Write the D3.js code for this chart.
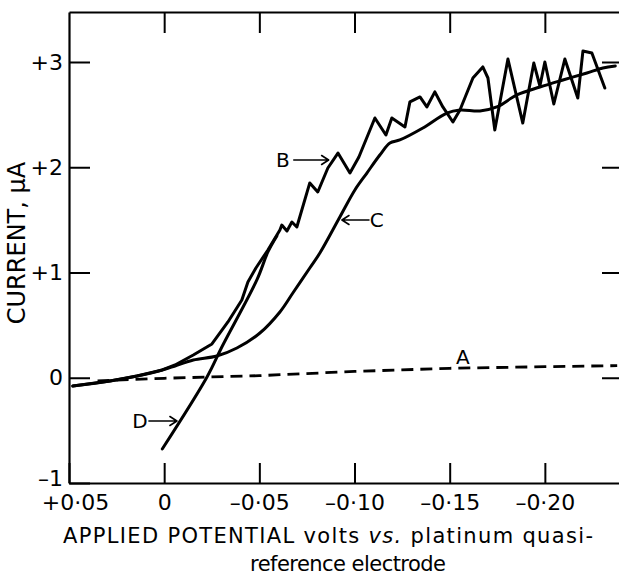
<!DOCTYPE html>
<html>
<head>
<meta charset="utf-8">
<script src="https://cdn.jsdelivr.net/npm/d3@7"></script>
<style>
  html, body { margin: 0; padding: 0; background: #fff; }
  svg { display: block; }
  text { font-family: "DejaVu Sans", sans-serif; fill: #000; }
</style>
</head>
<body>
<script>
// Axis ticks (potential in volts, current in microamps)
const potentialTicks = [0.05, 0, -0.05, -0.10, -0.15, -0.20];
const potentialTickLabels = ["+0·05", "0", "–0·05", "–0·10", "–0·15", "–0·20"];
const currentTicks = [-1, 0, 1, 2, 3];
const currentTickLabels = ["–1", "0", "+1", "+2", "+3"];

// Curve A: residual current (dashed)
const curveA = [
  [0.035, -0.03], [0, -0.005], [-0.05, 0.02], [-0.10, 0.06],
  [-0.15, 0.09], [-0.20, 0.105], [-0.238, 0.115]
];

// Curve B: noisy wave
const curveB = [
  [0.048, -0.078], [0.0285, -0.031], [0.0143, 0.017], [0.001, 0.074],
  [-0.0057, 0.121], [-0.0153, 0.216], [-0.0251, 0.321], [-0.0335, 0.530],
  [-0.0408, 0.739], [-0.044, 0.91], [-0.0482, 1.043], [-0.0545, 1.214],
  [-0.0608, 1.404], [-0.0618, 1.451], [-0.0645, 1.394], [-0.0671, 1.48],
  [-0.0697, 1.432], [-0.0765, 1.851], [-0.0807, 1.765], [-0.086, 1.993],
  [-0.0913, 2.135], [-0.0976, 1.945], [-0.1023, 2.097], [-0.1107, 2.468],
  [-0.1165, 2.306], [-0.1196, 2.468], [-0.1265, 2.383], [-0.1291, 2.621],
  [-0.1344, 2.668], [-0.138, 2.573], [-0.1422, 2.716], [-0.1464, 2.573],
  [-0.1517, 2.43], [-0.1554, 2.544], [-0.1622, 2.848], [-0.1674, 2.953],
  [-0.1701, 2.848], [-0.1737, 2.354], [-0.1806, 3.028], [-0.1884, 2.42],
  [-0.1942, 2.99], [-0.1974, 2.772], [-0.2, 3.0], [-0.2047, 2.601],
  [-0.2105, 3.028], [-0.2173, 2.658], [-0.22, 3.104], [-0.2247, 3.085],
  [-0.2315, 2.753]
];

// Curve C: smooth wave
const curveC = [
  [0.048, -0.078], [0.0285, -0.031], [0.0143, 0.017], [0.001, 0.074],
  [-0.0057, 0.112], [-0.0153, 0.169], [-0.0277, 0.207], [-0.0382, 0.283],
  [-0.0503, 0.425], [-0.0608, 0.625], [-0.0676, 0.805], [-0.0765, 1.043],
  [-0.0818, 1.185], [-0.0923, 1.527], [-0.1002, 1.784], [-0.1065, 1.945],
  [-0.1133, 2.116], [-0.1186, 2.23], [-0.1238, 2.259], [-0.1359, 2.373],
  [-0.1485, 2.515], [-0.1554, 2.544], [-0.1659, 2.535], [-0.1748, 2.573],
  [-0.1853, 2.687], [-0.1974, 2.762], [-0.2095, 2.829], [-0.2221, 2.896],
  [-0.2305, 2.943], [-0.237, 2.962]
];

// Curve D: foot of the wave
const curveD = [
  [0.001, -0.677], [-0.0225, 0.007], [-0.0303, 0.292], [-0.0487, 0.929],
  [-0.0545, 1.195], [-0.0592, 1.347]
];

// Curve labels with their pointer arrows (data units)
const curveLabels = [
  { text: "A", at: [-0.1569, 0.197] },
  { text: "B", at: [-0.0624, 2.069], arrow: [[-0.0681, 2.069], [-0.0864, 2.069]] },
  { text: "C", at: [-0.1117, 1.499], arrow: [[-0.1076, 1.499], [-0.0934, 1.499]] },
  { text: "D", at: [0.0127, -0.411], arrow: [[0.008, -0.411], [-0.0067, -0.411]] }
];

const W = 619, H = 578;
const svg = d3.select("body").append("svg").attr("width", W).attr("height", H);

const x = d3.scaleLinear().domain([0.05, -0.24]).range([69, 621]);
const y = d3.scaleLinear().domain([-1, 3.475]).range([483, 12]);

function styleAxis(g, fontSize) {
  g.attr("font-family", "DejaVu Sans, sans-serif").attr("font-size", fontSize);
  g.select(".domain").attr("stroke", "#000").attr("stroke-width", 2.2);
  g.selectAll(".tick line").attr("stroke", "#000").attr("stroke-width", 2);
  g.selectAll(".tick text").attr("fill", "#000");
}

// bottom axis with labels, ticks pointing inward
const gBottom = svg.append("g")
  .attr("transform", `translate(0,${y(-1)})`)
  .call(d3.axisBottom(x)
    .tickValues(potentialTicks)
    .tickFormat(d => potentialTickLabels[potentialTicks.indexOf(d)])
    .tickSizeInner(-20).tickSizeOuter(0).tickPadding(11));
styleAxis(gBottom, 22);
gBottom.selectAll(".tick text").filter(d => d === 0.05).attr("dx", 6);

// top axis, ticks only
const gTop = svg.append("g")
  .attr("transform", `translate(0,${y.range()[1]})`)
  .call(d3.axisTop(x)
    .tickValues(potentialTicks.slice(1))
    .tickFormat("")
    .tickSizeInner(-21).tickSizeOuter(0));
styleAxis(gTop, 22);

// left axis with labels
const gLeft = svg.append("g")
  .attr("transform", `translate(${x(0.05)},0)`)
  .call(d3.axisLeft(y)
    .tickValues(currentTicks)
    .tickFormat(d => currentTickLabels[currentTicks.indexOf(d)])
    .tickSizeInner(-21).tickSizeOuter(0).tickPadding(6));
styleAxis(gLeft, 22);
// lowest label sits a little above the corner so it clears the x labels
gLeft.selectAll(".tick text").filter(d => d === -1).attr("dy", "0.1em");

// right axis, ticks only
const gRight = svg.append("g")
  .attr("transform", `translate(${x.range()[1]},0)`)
  .call(d3.axisRight(y)
    .tickValues(currentTicks.slice(1))
    .tickFormat("")
    .tickSizeInner(-19).tickSizeOuter(0));
styleAxis(gRight, 22);

// curves
const line = d3.line().x(d => x(d[0])).y(d => y(d[1]));
const curves = svg.append("g").attr("fill", "none").attr("stroke", "#000")
  .attr("stroke-linecap", "round").attr("stroke-linejoin", "round");

curves.append("path")
  .attr("d", line.curve(d3.curveLinear)(curveA))
  .attr("stroke-width", 2.8).attr("stroke-dasharray", "12,7").attr("stroke-linecap", "butt");
curves.append("path").attr("d", line.curve(d3.curveLinear)(curveB)).attr("stroke-width", 3);
curves.append("path").attr("d", line.curve(d3.curveCatmullRom)(curveC)).attr("stroke-width", 3);
curves.append("path").attr("d", line.curve(d3.curveCatmullRom)(curveD)).attr("stroke-width", 3);

// labels and arrows
const lab = svg.append("g");
curveLabels.forEach(l => {
  lab.append("text")
    .attr("x", x(l.at[0])).attr("y", y(l.at[1]))
    .attr("dy", "0.36em").attr("text-anchor", "middle")
    .attr("font-size", 20).text(l.text);
  if (l.arrow) {
    const [p0, p1] = l.arrow.map(p => [x(p[0]), y(p[1])]);
    const dir = Math.sign(p1[0] - p0[0]);
    const hx = p1[0] - dir * 7;
    lab.append("path")
      .attr("d", `M${p0[0]},${p0[1]}L${p1[0]},${p1[1]}M${hx},${p1[1] - 4.5}L${p1[0]},${p1[1]}L${hx},${p1[1] + 4.5}`)
      .attr("fill", "none").attr("stroke", "#000").attr("stroke-width", 1.6)
      .attr("stroke-linecap", "round").attr("stroke-linejoin", "round");
  }
});

// axis titles
const xTitle = svg.append("text")
  .attr("x", 63).attr("y", 543).attr("font-size", 21)
  .attr("textLength", 530).attr("lengthAdjust", "spacing");
xTitle.append("tspan").text("APPLIED POTENTIAL volts ");
xTitle.append("tspan").attr("font-style", "italic").text("vs.");
xTitle.append("tspan").text(" platinum quasi-");

svg.append("text")
  .attr("x", 250).attr("y", 571).attr("font-size", 21)
  .attr("textLength", 196).attr("lengthAdjust", "spacing")
  .text("reference electrode");

svg.append("text")
  .attr("transform", "translate(25,243) rotate(-90)")
  .attr("text-anchor", "middle").attr("font-size", 24)
  .text("CURRENT, μA");
</script>
</body>
</html>
